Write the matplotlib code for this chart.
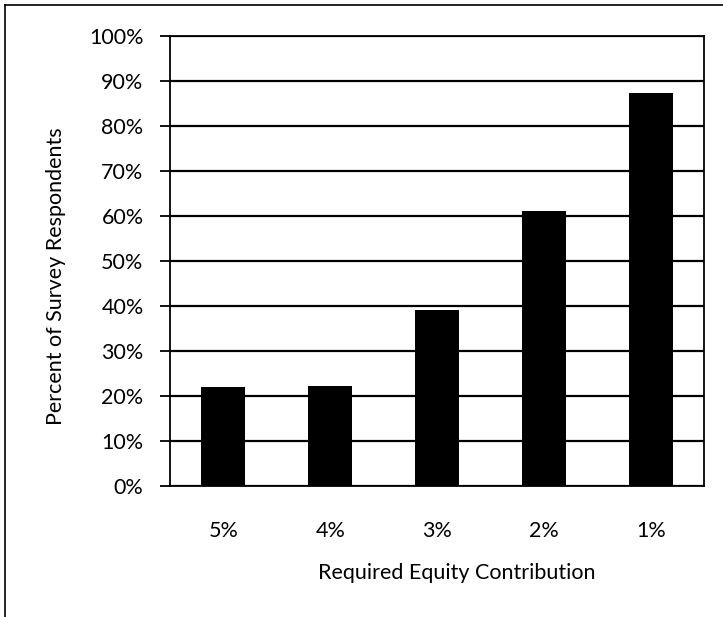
import matplotlib.pyplot as plt
from matplotlib.lines import Line2D
from matplotlib.ticker import PercentFormatter

plt.rcParams['font.family'] = ['Lato', 'DejaVu Sans']

# 数据
categories = ['5%', '4%', '3%', '2%', '1%']
percent_respondents = [21.9, 22.2, 39.1, 61.1, 87.3]
y_ticks = [0, 10, 20, 30, 40, 50, 60, 70, 80, 90, 100]

fig = plt.figure(figsize=(7.23, 6.17), dpi=100)
ax = fig.add_axes([0.235, 0.2123, 0.739, 0.7294])

ax.bar(categories, percent_respondents, width=0.41, color='black', zorder=3)
ax.set_xlim(-0.5, len(categories) - 0.5)
ax.set_ylim(0, 100)
ax.set_yticks(y_ticks)
ax.yaxis.set_major_formatter(PercentFormatter(decimals=0))

# 网格线和边框
ax.grid(axis='y', color='black', linewidth=1.6, zorder=1)
for s in ax.spines.values():
    s.set_color('black')
    s.set_linewidth(1.3)

ax.tick_params(axis='y', direction='out', length=7, width=1.3, pad=12, labelsize=15.5)
ax.tick_params(axis='x', length=0, pad=25, labelsize=15.5)

ax.set_xlabel('Required Equity Contribution', fontsize=15.5)
ax.xaxis.set_label_coords(0.536, -0.171)
ax.set_ylabel('Percent of Survey Respondents', fontsize=15.5)
ax.yaxis.set_label_coords(-0.195, 0.466)

# 外框（左侧和顶部）
fig.add_artist(Line2D([5 / 723, 5 / 723], [0, 1 - 5 / 617], color='black', lw=1.2))
fig.add_artist(Line2D([5 / 723, 1], [1 - 5 / 617, 1 - 5 / 617], color='black', lw=1.2))

fig.savefig('out.png', dpi=100)
